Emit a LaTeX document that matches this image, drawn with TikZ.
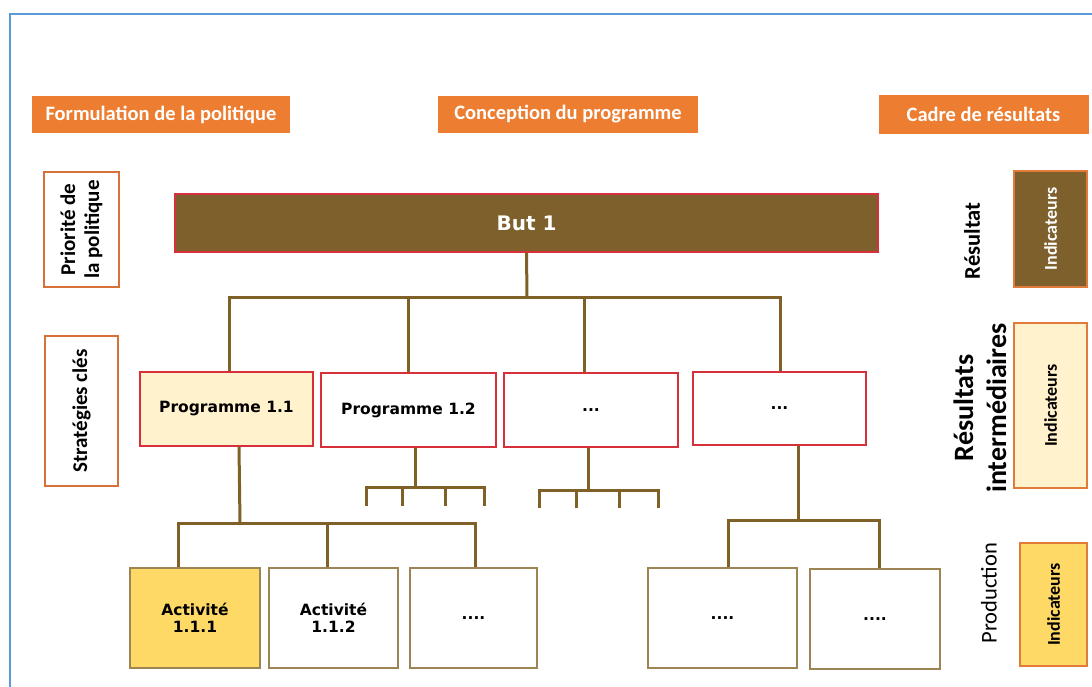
\documentclass[tikz,border=0pt]{standalone}
\usepackage{fontspec}
\setmainfont{Carlito}
\newfontfamily\dv{DejaVu Sans}
\definecolor{hdrorange}{HTML}{ED7D31}
\definecolor{brownfill}{HTML}{7D602B}
\definecolor{linebrown}{HTML}{7F6128}
\definecolor{redborder}{HTML}{D7303A}
\definecolor{cream}{HTML}{FFF2CC}
\definecolor{gold}{HTML}{FFD966}
\definecolor{actborder}{HTML}{9C8552}
\definecolor{lblborder}{HTML}{D8703A}
\definecolor{indborder}{HTML}{E07B39}
\definecolor{framblue}{HTML}{5B9BD5}
\begin{document}
\begin{tikzpicture}[x=1pt,y=-1pt,
  hdr/.style={fill=hdrorange, text=white, inner sep=0pt, font=\bfseries\fontsize{20.5}{24}\selectfont},
  lbl/.style={draw=lblborder, line width=1.2pt, fill=white, rotate=90, align=center, inner sep=0pt, font=\bfseries\fontsize{21}{24}\selectfont},
  butbox/.style={draw=redborder, line width=1.2pt, fill=brownfill, text=white, inner sep=0pt, font=\dv\bfseries\fontsize{20}{23}\selectfont},
  prog/.style={draw=redborder, line width=1.3pt, fill=white, inner sep=0pt, font=\dv\bfseries\fontsize{15.5}{17}\selectfont},
  act/.style={draw=actborder, line width=1.3pt, fill=white, align=center, inner sep=0pt, font=\dv\bfseries\fontsize{15.5}{17}\selectfont},
  ind/.style={draw=indborder, line width=1.3pt, rotate=90, inner sep=0pt, font=\bfseries\fontsize{18}{21}\selectfont},
  conn/.style={draw=linebrown, line width=3pt},
  frameline/.style={draw=framblue, line width=1.5pt}]
\useasboundingbox (0,0) rectangle (1092,687);
\draw[frameline] (1092,14) -- (10,14) -- (10,687);

% headers
\node[hdr, minimum width=258, minimum height=37] (hF) at (161,114.5) {Formulation de la politique};
\node[hdr, minimum width=260, minimum height=37] (hC) at (568,114.5) {Conception du programme};
\node[hdr, minimum width=210, minimum height=39] (hR) at (983.5,114.5) {Cadre de résultats};

% left labels
\node[lbl, minimum width=115, minimum height=75] (prio) at (81.5,229.5) {Priorité de\\la politique};
\node[lbl, minimum width=150, minimum height=73] (strat) at (81.5,411) {Stratégies clés};

% goal
\node[butbox, minimum width=703, minimum height=58] (but) at (526.5,223) {But 1};

% programmes
\node[prog, fill=cream, minimum width=173, minimum height=74] (p11) at (226.5,409) {Programme 1.1};
\node[prog, minimum width=175, minimum height=74] (p12) at (408.5,410) {Programme 1.2};
\node[prog, minimum width=174, minimum height=74] (p13) at (591,410) {...};
\node[prog, minimum width=173, minimum height=73] (p14) at (779.5,408.5) {...};

% activities
\node[act, fill=gold, minimum width=130, minimum height=100] (a1) at (195,618) {Activité\\1.1.1};
\node[act, minimum width=129, minimum height=100] (a2) at (333.5,618) {Activité\\1.1.2};
\node[act, minimum width=127, minimum height=100] (a3) at (473.5,618) {....};
\node[act, minimum width=149, minimum height=100] (a4) at (722.5,618) {....};
\node[act, minimum width=130, minimum height=100] (a5) at (875,619) {....};

% results framework
\node[rotate=90, inner sep=0pt, font=\bfseries\fontsize{22.5}{26}\selectfont] (lr1) at (972,241) {Résultat};
\node[rotate=90, align=center, inner sep=0pt, font=\bfseries\fontsize{28}{33}\selectfont] (lr2) at (980,408) {Résultats\\intermédiaires};
\node[rotate=90, inner sep=0pt, font=\fontsize{22.5}{26}\selectfont] (lr3) at (989,593) {Production};
\node[ind, fill=brownfill, text=white, minimum width=116, minimum height=73] (i1) at (1050.5,229) {Indicateurs};
\node[ind, fill=cream, minimum width=165, minimum height=73] (i2) at (1050.5,405.5) {Indicateurs};
\node[ind, fill=gold, minimum width=123, minimum height=67] (i3) at (1053.5,604.5) {Indicateurs};

% goal -> programmes
\coordinate (jb) at (527,297);
\coordinate (t11) at ([xshift=2.5pt]p11.north);
\coordinate (t14) at ([xshift=0.5pt]p14.north);
\coordinate (t13) at ([xshift=-7pt]p13.north);
\draw[conn] (but.south) -- (jb);
\draw[conn] (t11) |- (t14 |- jb) -- (t14);
\draw[conn] (jb -| p12.north) -- (p12.north);
\draw[conn] (t13 |- jb) -- (t13);

% programme 1.1 -> activities
\coordinate (s11) at ([xshift=12.5pt]p11.south);
\coordinate (j11) at (240,523);
\coordinate (ta1) at ([xshift=-17pt]a1.north);
\coordinate (ta2) at ([xshift=-6.5pt]a2.north);
\coordinate (ta3) at ([xshift=1.5pt]a3.north);
\draw[conn] (s11) -- (j11);
\draw[conn] (ta1) |- (ta3 |- j11) -- (ta3);
\draw[conn] (ta2) -- (ta2 |- j11);

% programme 1.2 fork
\coordinate (s12) at ([xshift=6.5pt]p12.south);
\coordinate (j12) at (415,487);
\coordinate (e121) at (366,506);
\coordinate (e122) at (402,506);
\coordinate (e123) at (445,506);
\coordinate (e124) at (484,506);
\draw[conn] (s12) -- (j12);
\draw[conn] (e121) |- (e124 |- j12) -- (e124);
\draw[conn] (e122) -- (e122 |- j12);
\draw[conn] (e123) -- (e123 |- j12);

% third programme fork
\coordinate (s13) at ([xshift=-3pt]p13.south);
\coordinate (j13) at (588,490);
\coordinate (e131) at (539,508);
\coordinate (e132) at (576,508);
\coordinate (e133) at (619,508);
\coordinate (e134) at (658,508);
\draw[conn] (s13) -- (s13 |- j13);
\draw[conn] (e131) |- (e134 |- j13) -- (e134);
\draw[conn] (e132) -- (e132 |- j13);
\draw[conn] (e133) -- (e133 |- j13);

% fourth programme -> activities
\coordinate (s14) at ([xshift=18.5pt]p14.south);
\coordinate (j14) at (798,520);
\coordinate (ta4) at ([xshift=5.5pt]a4.north);
\coordinate (ta5) at ([xshift=4pt]a5.north);
\draw[conn] (s14) -- (j14);
\draw[conn] (ta4) |- (ta5 |- j14) -- (ta5);
\end{tikzpicture}
\end{document}
